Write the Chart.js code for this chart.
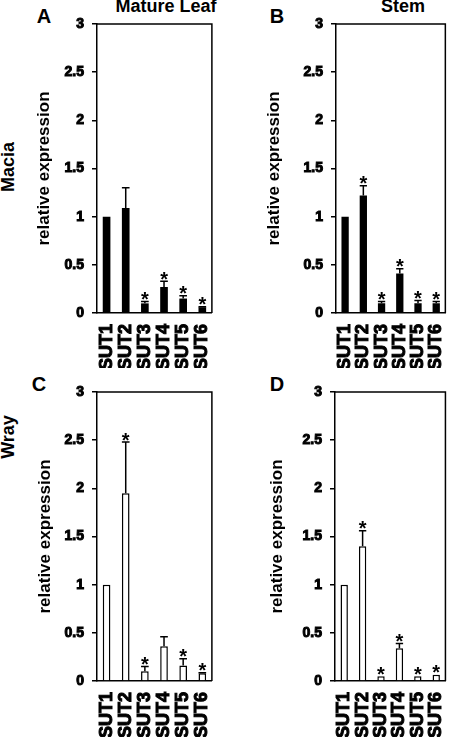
<!DOCTYPE html>
<html>
<head>
  <meta name="viewport" content="width=device-width, initial-scale=1.0">
  <script src="https://cdn.jsdelivr.net/npm/chart.js@4.4.0/dist/chart.umd.min.js"></script>
  <style>
    body { margin: 0; background: #fff; }
    #fig { position: relative; width: 469px; height: 737px; overflow: hidden; background: #fff;
           font-family: "Liberation Sans", Arial, sans-serif; font-weight: bold; color: #000; }
    #fig canvas { position: absolute; }
    .lbl { position: absolute; line-height: 1; white-space: nowrap; transform: translate(-50%, -50%); }
    .rot { transform: translate(-50%, -50%) rotate(-90deg); }
  </style>
</head>
<body>
<div id="fig">
  <div class="lbl" style="left:166px; top:6px; font-size:18px;">Mature Leaf</div>
  <div class="lbl" style="left:403px; top:6px; font-size:18px;">Stem</div>
  <div class="lbl rot" style="left:8px; top:167px; font-size:18px;">Macia</div>
  <div class="lbl rot" style="left:8px; top:437px; font-size:18px;">Wray</div>
  <div class="lbl" style="left:44px; top:16px; font-size:20px;">A</div>
  <div class="lbl" style="left:277px; top:16px; font-size:20px;">B</div>
  <div class="lbl" style="left:39px; top:384px; font-size:20px;">C</div>
  <div class="lbl" style="left:277px; top:384px; font-size:20px;">D</div>
</div>
<script>
const labels = ['SUT1', 'SUT2', 'SUT3', 'SUT4', 'SUT5', 'SUT6'];
const yMax = 3;
const yStep = 0.5;
const yTitle = 'relative expression';

// Macia, mature leaf
const leafMacia = [1.0, 1.09, 0.10, 0.27, 0.15, 0.06];
const leafMaciaErr = [0, 0.21, 0.02, 0.06, 0.03, 0.005];
const leafMaciaStars = [0, 0, 1, 1, 1, 1];
// Macia, stem
const stemMacia = [1.0, 1.22, 0.10, 0.41, 0.10, 0.10];
const stemMaciaErr = [0, 0.10, 0.02, 0.05, 0.03, 0.02];
const stemMaciaStars = [0, 1, 1, 1, 1, 1];
// Wray, mature leaf
const leafWray = [1.0, 1.95, 0.10, 0.36, 0.16, 0.08];
const leafWrayErr = [0, 0.53, 0.05, 0.10, 0.07, 0.005];
const leafWrayStars = [0, 1, 1, 0, 1, 1];
// Wray, stem
const stemWray = [1.0, 1.40, 0.05, 0.34, 0.05, 0.065];
const stemWrayErr = [0, 0.16, 0, 0.05, 0, 0];
const stemWrayStars = [0, 1, 1, 1, 1, 1];

const FAMILY = '"Liberation Sans", Arial, sans-serif';
Chart.defaults.font.family = FAMILY;
Chart.defaults.color = '#000';

// error bars, asterisks and the top/right sides of the frame
function extras(vals, errs, stars) {
  return {
    id: 'extras',
    afterDatasetsDraw(chart) {
      const ctx = chart.ctx, y = chart.scales.y, a = chart.chartArea;
      const meta = chart.getDatasetMeta(0);
      ctx.save();
      ctx.strokeStyle = '#000';
      ctx.fillStyle = '#000';
      ctx.lineWidth = 1.5;
      meta.data.forEach((bar, i) => {
        const top = y.getPixelForValue(vals[i] + errs[i]);
        if (errs[i] > 0) {
          const half = bar.width / 2;
          ctx.beginPath();
          ctx.moveTo(bar.x, y.getPixelForValue(vals[i]));
          ctx.lineTo(bar.x, top);
          ctx.moveTo(bar.x - half, top);
          ctx.lineTo(bar.x + half, top);
          ctx.stroke();
        }
        if (stars[i]) {
          ctx.font = 'bold 20px ' + FAMILY;
          ctx.textAlign = 'center';
          ctx.textBaseline = 'alphabetic';
          ctx.fillText('*', bar.x, top + 4.5);
        }
      });
      ctx.beginPath();
      ctx.moveTo(a.left, a.top);
      ctx.lineTo(a.right, a.top);
      ctx.lineTo(a.right, a.bottom);
      ctx.stroke();
      ctx.restore();
    }
  };
}

const panels = [
  { vals: leafMacia, errs: leafMaciaErr, stars: leafMaciaStars, fill: '#000', x: 0, y: 0, w: 235, h: 368, padL: 34, left: 97, right: 234, top: 24, bottom: 313 },
  { vals: stemMacia, errs: stemMaciaErr, stars: stemMaciaStars, fill: '#000', x: 234, y: 0, w: 235, h: 368, padL: 30, left: 102, right: 233, top: 24, bottom: 313 },
  { vals: leafWray, errs: leafWrayErr, stars: leafWrayStars, fill: '#fff', x: 0, y: 368, w: 235, h: 369, padL: 35, left: 97, right: 234, top: 24, bottom: 313 },
  { vals: stemWray, errs: stemWrayErr, stars: stemWrayStars, fill: '#fff', x: 234, y: 368, w: 235, h: 369, padL: 33, left: 101, right: 233, top: 24, bottom: 313 }
];

const fig = document.getElementById('fig');
panels.forEach(p => {
  const cv = document.createElement('canvas');
  cv.width = p.w;
  cv.height = p.h;
  cv.style.left = p.x + 'px';
  cv.style.top = p.y + 'px';
  fig.appendChild(cv);
  new Chart(cv.getContext('2d'), {
    type: 'bar',
    data: {
      labels: labels,
      datasets: [{
        data: p.vals,
        backgroundColor: p.fill,
        borderColor: '#000',
        borderWidth: p.fill === '#000' ? 0 : 1.5,
        barPercentage: 0.4,
        categoryPercentage: 1
      }]
    },
    options: {
      responsive: false,
      animation: false,
      devicePixelRatio: 1,
      layout: { padding: { left: p.padL, right: p.w - p.right, top: p.top, bottom: 0 } },
      plugins: { legend: { display: false }, tooltip: { enabled: false } },
      scales: {
        x: {
          offset: true,
          grid: { display: false, drawTicks: false },
          border: { display: true, color: '#000', width: 1.5 },
          ticks: { minRotation: 90, maxRotation: 90, autoSkip: false, padding: 11, color: '#000',
                   textStrokeColor: '#000', textStrokeWidth: 1,
                   font: { family: FAMILY, size: 18, weight: 'bold' } },
          afterFit(s) { s.height = p.h - p.bottom; }
        },
        y: {
          min: 0,
          max: yMax,
          ticks: { stepSize: yStep, padding: 8, color: '#000',
                   textStrokeColor: '#000', textStrokeWidth: 1,
                   font: { family: FAMILY, size: 14, weight: 'bold' },
                   callback: v => String(Number(v)) },
          grid: { drawOnChartArea: false, drawTicks: true, tickLength: 5, color: '#000', lineWidth: 1.5 },
          border: { display: true, color: '#000', width: 1.5 },
          title: { display: true, text: yTitle, color: '#000', padding: 0,
                   font: { family: FAMILY, size: 17, weight: 'bold' } },
          afterFit(s) { s.width = p.left - p.padL; }
        }
      }
    },
    plugins: [extras(p.vals, p.errs, p.stars)]
  });
});
</script>
</body>
</html>
